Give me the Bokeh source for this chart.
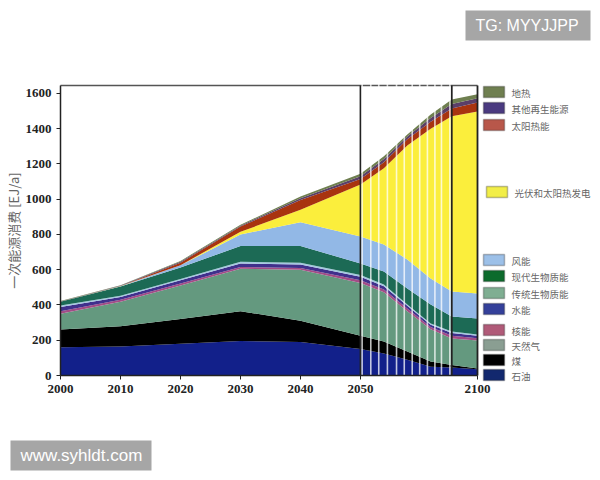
import numpy as np
from bokeh.embed import file_html
from bokeh.models import BoxAnnotation, ColumnDataSource, FixedTicker, Label, LinearAxis, Range1d
from bokeh.plotting import figure
from bokeh.resources import INLINE

years = [2000, 2010, 2020, 2030, 2040, 2050, 2060, 2070, 2080, 2089, 2100]

# layer thickness in EJ/a, bottom to top
oil = [160, 165, 180, 195, 190, 150, 125, 90, 50, 45, 36]
coal = [101, 115, 140, 170, 120, 75, 68, 46, 30, 15, 4]
gas = [89, 138, 190, 240, 290, 300, 279, 229, 182, 150, 158]
nuclear = [15, 12, 12, 10, 10, 15, 16, 15, 13, 15, 14]
hydro = [23, 15, 18, 20, 20, 20, 18, 15, 13, 16, 14]
trad_biomass = [9, 7, 8, 10, 10, 10, 10, 8, 7, 9, 6]
modern_biomass = [21, 53, 64, 90, 95, 65, 74, 91, 108, 85, 91]
wind = [0, 1, 13, 65, 135, 153, 153, 164, 147, 142, 142]
pv = [0, 1, 1, 15, 70, 295, 432, 647, 850, 993, 1033]
solar_thermal = [0, 1, 14, 30, 55, 32, 35, 35, 40, 45, 50]
other_renew = [2, 2, 5, 5, 10, 15, 18, 15, 20, 25, 25]
geothermal = [2, 2, 5, 5, 10, 15, 15, 12, 20, 26, 22]

x_ticks = [2000, 2010, 2020, 2030, 2040, 2050, 2100]
y_ticks = [0, 200, 400, 600, 800, 1000, 1200, 1400, 1600]
stripe_years = [2050.7, 2054.4, 2057.8, 2061.5, 2065.4, 2068.7, 2072.1, 2075.3, 2078.6, 2081.8, 2084.6, 2088.2]

names = ["oil", "coal", "gas", "nuclear", "hydro", "trad", "modern", "wind", "pv", "thermal", "other", "geo"]
values = [oil, coal, gas, nuclear, hydro, trad_biomass, modern_biomass, wind, pv, solar_thermal, other_renew, geothermal]
colors = ["#12208a", "#000000", "#64997f", "#a24c86", "#40308c", "#a3c8e0", "#1c6a55",
          "#92b8e6", "#fbee3c", "#a8340f", "#5b3f68", "#6f7f50"]

legend_labels = ["地热", "其他再生能源", "太阳热能", "光伏和太阳热发电", "风能", "现代生物质能",
                 "传统生物质能", "水能", "核能", "天然气", "煤", "石油"]
legend_colors = ["#6f7f50", "#4a3a80", "#b8574a", "#f2ee48", "#9cc0e8", "#0c6b2c",
                 "#7fae92", "#34409a", "#b05a78", "#8a9e92", "#000000", "#12286e"]
legend_tops = [86, 102, 119, 186, 254, 270, 287, 303, 324, 339, 354, 369]

# the frame fills the canvas, the axes sit inside it, otherwise svg clips the legend away
WIDTH, HEIGHT = 596, 476
PLOT_LEFT, PLOT_TOP, PLOT_BOTTOM = 60, 85, 375
PX_PER_YEAR = 6
Y_TOP = 1645
PX_PER_EJ = (PLOT_BOTTOM - PLOT_TOP) / Y_TOP


# the part after 2050 is squeezed on the original axis
def squeeze(year):
    year = np.asarray(year, dtype=float)
    return np.where(year <= 2050, year, 2050 + (year - 2050) * 0.39)


x_start = 2000 - PLOT_LEFT / PX_PER_YEAR
y_start = -(HEIGHT - PLOT_BOTTOM) / PX_PER_EJ
p = figure(width=WIDTH, height=HEIGHT, output_backend="svg", toolbar_location=None,
           x_range=Range1d(x_start, x_start + WIDTH / PX_PER_YEAR),
           y_range=Range1d(y_start, y_start + HEIGHT / PX_PER_EJ),
           x_axis_location=None, y_axis_location=None, min_border=0)
p.background_fill_color = "white"
p.outline_line_color = None
p.grid.visible = False

data = {"x": squeeze(years)}
data.update(dict(zip(names, values)))
p.varea_stack(names, x="x", color=colors, source=ColumnDataSource(data))

p.line(squeeze([2000, 2100]), [Y_TOP, Y_TOP], color="#555555", line_width=1.5)
for yr in [2050, 2089, 2100]:
    x = squeeze([yr, yr])
    p.line(x, [0, Y_TOP], color="#222222", line_width=1.8)

# white stripes across the scenario part, they also break up the top edge
stripes = squeeze(stripe_years)
p.segment(x0=stripes, y0=0, x1=stripes, y1=Y_TOP + 8, color="white", alpha=0.75, line_width=1.6)

xaxis = LinearAxis(fixed_location=0, bounds=(2000, float(squeeze(2100))),
                   ticker=FixedTicker(ticks=[float(v) for v in squeeze(x_ticks)]),
                   major_label_overrides={float(squeeze(t)): str(t) for t in x_ticks})
yaxis = LinearAxis(fixed_location=2000, bounds=(0, Y_TOP), ticker=FixedTicker(ticks=y_ticks),
                   axis_label="一次能源消费 [EJ/a]", axis_label_text_font="Noto Sans CJK SC",
                   axis_label_text_font_style="normal", axis_label_text_font_size="13px",
                   axis_label_text_color="#666666", axis_label_standoff=0)
for ax, side in ((xaxis, "below"), (yaxis, "left")):
    ax.axis_line_color = "#222222"
    ax.axis_line_width = 1.5
    ax.major_tick_line_color = "#222222"
    ax.major_tick_in = 0
    ax.major_tick_out = 4
    ax.minor_tick_line_color = None
    ax.major_label_text_font = "Liberation Serif"
    ax.major_label_text_font_style = "bold"
    ax.major_label_text_font_size = "13px"
    ax.major_label_text_color = "#222222"
    p.add_layout(ax, side)


def box(left, right, top, bottom, **kw):
    return BoxAnnotation(left=left, right=right, top=HEIGHT - top, bottom=HEIGHT - bottom,
                         left_units="screen", right_units="screen", top_units="screen",
                         bottom_units="screen", **kw)


def text(x, y, s, **kw):
    return Label(x=x, y=HEIGHT - y, text=s, x_units="screen", y_units="screen",
                 text_baseline="middle", **kw)


for lab, col, top in zip(legend_labels, legend_colors, legend_tops):
    left = 486 if lab.startswith("光伏") else 483
    p.add_layout(box(left, left + 21, top, top + 11, fill_color=col, fill_alpha=1,
                     line_color="#222222", line_width=1.5))
    p.add_layout(text(left + 28, top + 6, lab, text_font="Noto Sans CJK SC",
                      text_font_size="9.5px", text_color="#666666"))

p.add_layout(box(465, 590, 10, 40, fill_color="#a6a6a6", fill_alpha=1, line_color=None))
p.add_layout(text(475, 25, "TG: MYYJJPP", text_font="Liberation Sans", text_font_size="16px", text_color="white"))
p.add_layout(box(10, 151, 440, 470, fill_color="#a6a6a6", fill_alpha=1, line_color=None))
p.add_layout(text(20, 455, "www.syhldt.com", text_font="Liberation Sans", text_font_size="17px", text_color="white"))

open("out.html", "w").write(file_html(p, INLINE))
